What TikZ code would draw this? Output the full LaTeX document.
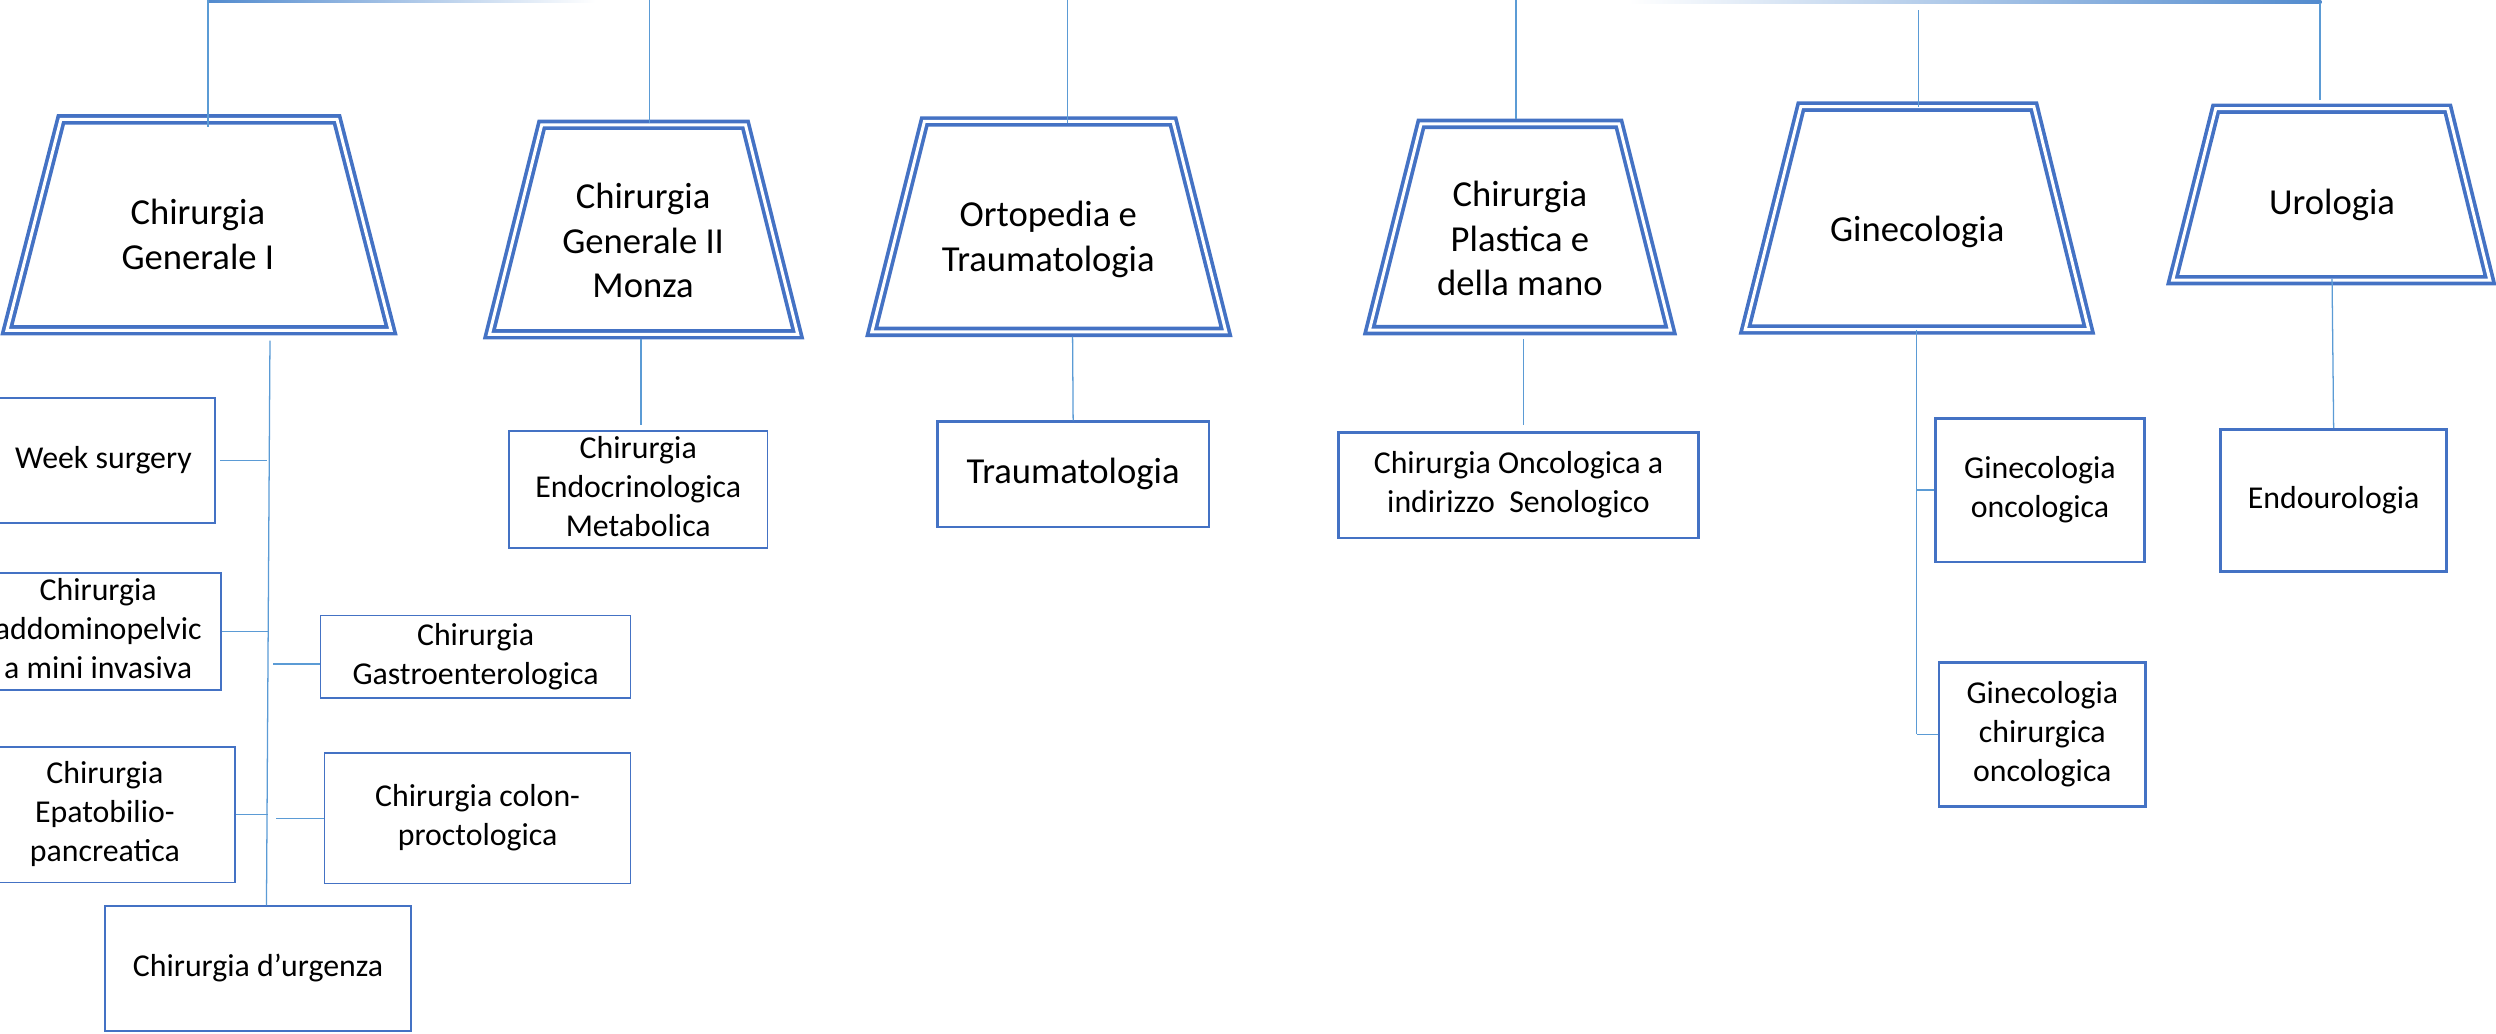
\documentclass[tikz,border=0pt]{standalone}
\usepackage{fontspec}
\setmainfont{Carlito}
\definecolor{trapblue}{HTML}{4472C4}
\definecolor{connblue}{HTML}{5B9BD5}
\newcommand\trapfont{\fontsize{23}{28}\selectfont}
\newcommand\boxfont{\fontsize{20}{24.5}\selectfont}
\newcommand\mlines[1]{\begin{tabular}[t]{@{}c@{}}#1\end{tabular}}
\newcommand\clines[1]{\begin{tabular}{@{}c@{}}#1\end{tabular}}
\begin{document}
\begin{tikzpicture}[x=1pt,y=-1pt,
  trap/.style={draw=trapblue, line width=2.3pt, double=white, double distance=1.9pt, line join=miter},
  ttext/.style={anchor=base, inner sep=0pt, font=\trapfont},
  thinbox/.style={draw=trapblue, line width=1pt, inner sep=0pt, font=\boxfont, fill=white},
  thickbox/.style={thinbox, line width=1.7pt},
  conn/.style={draw=connblue, line width=0.8pt}]
\useasboundingbox (0,0) rectangle (1568,649);
\clip (0,0) rectangle (1568,649);

% ---- top faded bars
\shade[left color=connblue!60!trapblue, right color=white] (130.7,0) rectangle (374,1.7);
\shade[left color=white, right color=connblue!60!trapblue] (1023,0) rectangle (1458.3,1.9);

% ---- trapezoids
\draw[trap] (38.3,75) -- (211.7,75) -- (245.65,207.5) -- (4.35,207.5) -- cycle;
\draw[trap] (340.3,78.4) -- (468.3,78.4) -- (501.15,210) -- (307.45,210) -- cycle;
\draw[trap] (580.7,76.3) -- (736.9,76.3) -- (770.15,208.5) -- (547.65,208.5) -- cycle;
\draw[trap] (892.7,77.8) -- (1017,77.8) -- (1049.45,207.4) -- (860.25,207.4) -- cycle;
\draw[trap] (1131.3,67) -- (1277.7,67) -- (1312.15,207) -- (1096.35,207) -- cycle;
\draw[trap] (1391.9,68.3) -- (1537.7,68.3) -- (1564.15,176) -- (1364.85,176) -- cycle;

\node[ttext] (t1txt) at (124.3,141) {\mlines{Chirurgia\\Generale I}};
\node[ttext] (t2txt) at (404,131) {\mlines{Chirurgia\\Generale II\\Monza}};
\node[ttext] (t3txt) at (658.5,142.4) {\mlines{Ortopedia e\\Traumatologia}};
\node[ttext] (t4txt) at (954.8,129.8) {\mlines{Chirurgia\\Plastica e\\della mano}};
\node[ttext] (t5txt) at (1204.4,152) {\mlines{Ginecologia}};
\node[ttext] (t6txt) at (1465,135) {\mlines{Urologia}};

% ---- boxes
\node[thinbox, minimum width=139.9pt, minimum height=78.6pt] (week) at (64.95,289.3) {\clines{Week surgery}};
\node[thinbox, minimum width=154.6pt, minimum height=73.2pt] (addo) at (61.7,396.6) {\clines{Chirurgia\\addominopelvic\\a mini invasiva}};
\node[thinbox, minimum width=163.2pt, minimum height=85pt] (epato) at (65.9,511.8) {\clines{Chirurgia\\Epatobilio-\\pancreatica}};
\node[thinbox, minimum width=192.4pt, minimum height=78.3pt] (urg) at (162.1,608.35) {\clines{Chirurgia d’urgenza}};
\node[thinbox, minimum width=194.9pt, minimum height=51.9pt] (gastro) at (298.75,412.55) {\clines{Chirurgia\\Gastroenterologica}};
\node[thinbox, minimum width=192.3pt, minimum height=82pt] (colon) at (300.05,514) {\clines{Chirurgia colon-\\proctologica}};
\node[thinbox, minimum width=162.5pt, minimum height=70.1pt] (endo) at (400.95,307.55) {\clines{Chirurgia\\Endocrinologica\\Metabolica}};
\node[thickbox, font=\trapfont, minimum width=170.7pt, minimum height=66.1pt] (trauma) at (674.15,297.95) {\clines{Traumatologia}};
\node[thickbox, minimum width=225.8pt, minimum height=66.2pt] (onco) at (953.9,304.9) {\clines{Chirurgia Oncologica a\\indirizzo\ \ Senologico}};
\node[thickbox, minimum width=131pt, minimum height=90.3pt] (gonc) at (1281.5,307.85) {\clines{Ginecologia\\oncologica}};
\node[thickbox, minimum width=130pt, minimum height=90.5pt] (gchir) at (1283,461.25) {\clines{Ginecologia\\chirurgica\\oncologica}};
\node[thickbox, minimum width=142pt, minimum height=89.4pt] (endou) at (1466,314.3) {\clines{Endourologia}};

% ---- top connectors
\coordinate (top1) at (130.7,0);    \coordinate (in1) at (130.7,80);
\coordinate (top2) at (408,0);      \coordinate (in2) at (408,77);
\coordinate (top3) at (670.7,0);    \coordinate (in3) at (670.7,77);
\coordinate (top4) at (952.3,0);    \coordinate (in4) at (952.3,75);
\coordinate (top5) at (1205,6.5);   \coordinate (in5) at (1205,67);
\coordinate (top6) at (1457.5,2);   \coordinate (in6) at (1457.5,63);
\draw[conn] (top1) -- (in1);
\draw[conn] (top2) -- (in2);
\draw[conn] (top3) -- (in3);
\draw[conn] (top4) -- (in4);
\draw[conn] (top5) -- (in5);
\draw[conn] (top6) -- (in6);

% ---- bottom connectors
\coordinate (b1) at (169.6,214);
\coordinate (b2) at (402.7,213);
\coordinate (b3) at (673.8,211.5);
\coordinate (b4) at (956.9,213.2);
\coordinate (b5) at (1204,207);
\coordinate (b6) at (1465,175);
\coordinate (e2) at (402.7,267);
\coordinate (e4) at (956.9,267);
\coordinate (g1) at (1204,307.85);
\coordinate (g2) at (1204,461.25);

\draw[conn] (b1) -- ([xshift=5.3pt]urg.north);
\draw[conn] ([xshift=3pt]week.east) -- ++(29.5,0);
\draw[conn] (addo.east) -- ++(29.5,0);
\draw[conn] ([yshift=-4.6pt]gastro.west) -- ++(-29,0);
\draw[conn] (epato.east) -- ++(20.2,0);
\draw[conn] (colon.west) -- ++(-30,0);

\draw[conn] (b2) -- (e2);
\draw[conn] (b3) -- (trauma.north);
\draw[conn] (b4) -- (e4);
\draw[conn] (b5) -- (g2);
\draw[conn] (g1) -- (gonc.west);
\draw[conn] (g2) -- (gchir.west);
\draw[conn] (b6) -- (endou.north);
\end{tikzpicture}
\end{document}
